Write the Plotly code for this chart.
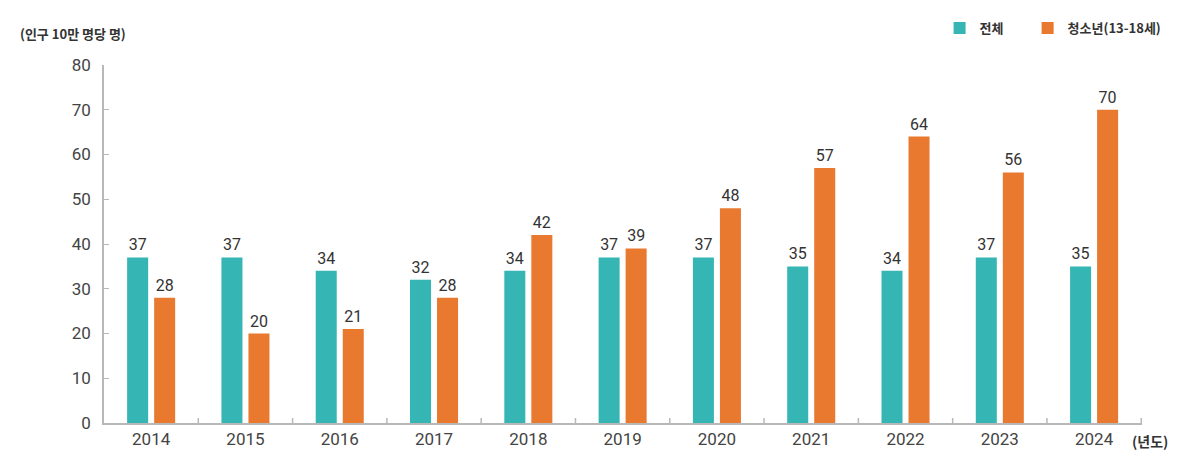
import plotly.graph_objects as go

years = ["2014", "2015", "2016", "2017", "2018", "2019", "2020", "2021", "2022", "2023", "2024"]
total = [37, 37, 34, 32, 34, 37, 37, 35, 34, 37, 35]
youth = [28, 20, 21, 28, 42, 39, 48, 57, 64, 56, 70]
yticks = [0, 10, 20, 30, 40, 50, 60, 70, 80]

TEAL = "#35b5b4"
ORANGE = "#e8792f"
FONT = "Noto Sans CJK KR, Noto Sans, sans-serif"
NUMFONT = "Roboto, sans-serif"
TXT = "#444444"

fig = go.Figure()
fig.add_bar(x=years, y=total, name="전체", marker_color=TEAL, marker_line_width=0,
            text=total, textposition="outside", cliponaxis=False, legend="legend",
            textfont=dict(size=16, color="#333333", family=NUMFONT))
fig.add_bar(x=years, y=youth, name="청소년(13-18세)", marker_color=ORANGE, marker_line_width=0,
            text=youth, textposition="outside", cliponaxis=False, legend="legend2",
            textfont=dict(size=16, color="#333333", family=NUMFONT))

legfont = dict(size=13, color="#333333", family=FONT, weight=700)

fig.update_layout(
    width=1191, height=466,
    margin=dict(l=104, r=49, t=65, b=43, autoexpand=False),
    paper_bgcolor="white", plot_bgcolor="white",
    barmode="group", bargap=0.427, bargroupgap=0.222,
    font=dict(family=FONT, color=TXT),
    showlegend=True,
    legend=dict(orientation="h", x=0.805, xanchor="left", y=1.103, yanchor="middle",
                font=legfont, itemwidth=30),
    legend2=dict(orientation="h", x=0.8898, xanchor="left", y=1.103, yanchor="middle",
                 font=legfont, itemwidth=30),
    xaxis=dict(type="category", showline=True, linecolor="#b8b8b8", linewidth=1.5,
               ticks="", showgrid=False,
               tickfont=dict(size=17, color=TXT, family=NUMFONT)),
    yaxis=dict(range=[0, 80], tickvals=yticks, showline=True, linecolor="#b8b8b8", linewidth=1.5,
               ticks="inside", ticklen=5, tickcolor="#b8b8b8", showgrid=False, zeroline=False,
               tickfont=dict(size=17, color=TXT, family=NUMFONT), ticklabelstandoff=8),
    annotations=[
        dict(text="<b>(인구 10만 명당 명)</b>", xref="paper", yref="paper", x=-0.083, y=1.089,
             xanchor="left", yanchor="middle", showarrow=False,
             font=dict(size=13, color="#333333", family=FONT)),
        dict(text="<b>(년도)</b>", xref="paper", yref="paper", x=1.0, y=-0.05,
             xanchor="left", yanchor="middle", xshift=-12, showarrow=False,
             font=dict(size=14, color="#333333", family=FONT)),
    ],
)

# inside ticks between categories on x axis
for i in range(1, len(years) + 1):
    fig.add_shape(type="line", xref="x", yref="paper", x0=i - 0.5, x1=i - 0.5, y0=0, y1=0.014,
                  line=dict(color="#b8b8b8", width=1.5))

fig.write_html("out.html")
